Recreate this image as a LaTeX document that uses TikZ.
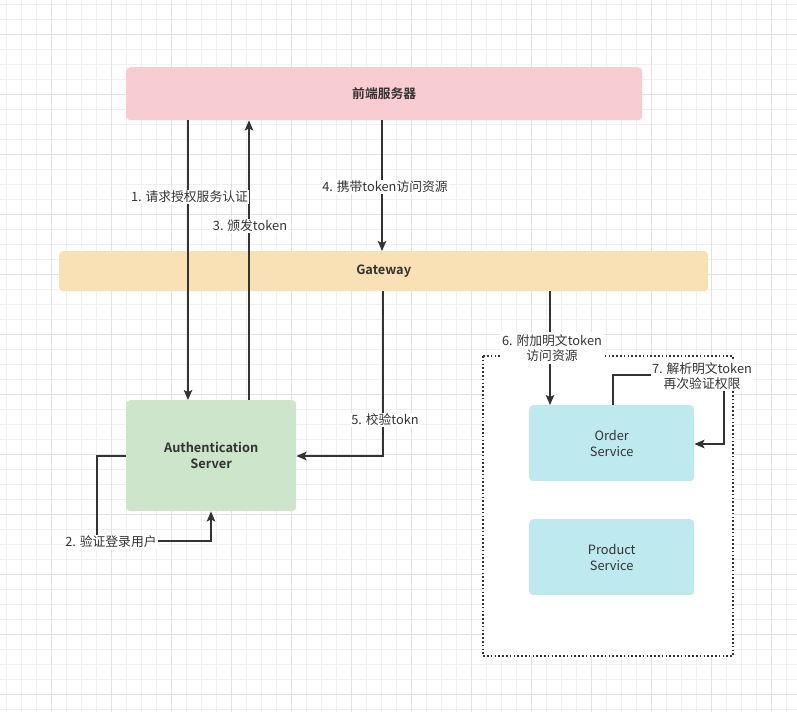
\documentclass[tikz,border=0pt]{standalone}
\usepackage{fontspec}
\setmainfont{Noto Sans CJK SC}[BoldFont={Noto Sans CJK SC Bold}]
\usetikzlibrary{arrows.meta}
\definecolor{gridminor}{HTML}{F0F0F0}
\definecolor{gridmajor}{HTML}{E2E2E2}
\definecolor{ink}{HTML}{333333}
\definecolor{pinkfill}{HTML}{F8CDD2}
\definecolor{sandfill}{HTML}{FAE1B5}
\definecolor{sagefill}{HTML}{CDE5CA}
\definecolor{skyfill}{HTML}{BDE9EF}
\tikzset{
  box/.style={rounded corners=4pt, draw=none, anchor=north west, inner sep=0pt,
    font=\fontsize{12.8}{16}\selectfont, text=ink, align=center},
  arr/.style={draw=ink, line width=1.6pt, -{Stealth[length=10pt,width=8.5pt,inset=2pt]}},
  lab/.style={fill=white, inner sep=1pt, font=\fontsize{12.8}{15.5}\selectfont, text=ink, align=center},
}
\begin{document}
\begin{tikzpicture}[x=1pt,y=-1pt]
\useasboundingbox (0,0) rectangle (797,712);
\fill[white] (0,0) rectangle (797,712);
% background grid
\foreach \k in {0,...,53} {
  \draw[gridminor, line width=0.8pt] ({6.7+15*\k},0) -- ({6.7+15*\k},712);
}
\foreach \k in {0,...,47} {
  \draw[gridminor, line width=0.8pt] (0,{4.3+15*\k}) -- (797,{4.3+15*\k});
}
\foreach \k in {0,...,13} {
  \draw[gridmajor, line width=0.8pt] ({51.7+60*\k},0) -- ({51.7+60*\k},712);
}
\foreach \k in {0,...,11} {
  \draw[gridmajor, line width=0.8pt] (0,{34.3+60*\k}) -- (797,{34.3+60*\k});
}
% dotted service group
\draw[ink, fill=white, line width=1.6pt, dash pattern=on 1.6pt off 2.2pt]
  (483,356) rectangle (733,656);
% boxes
\node[box, fill=pinkfill, minimum width=516pt, minimum height=53pt] (front) at (126,67) {\bfseries 前端服务器};
\node[box, fill=sandfill, minimum width=649pt, minimum height=40pt] (gw) at (59,251) {\bfseries Gateway};
\node[box, fill=sagefill, minimum width=170pt, minimum height=111pt] (auth) at (126,400) {\bfseries Authentication\\\bfseries Server};
\node[box, fill=skyfill, minimum width=165pt, minimum height=76pt] (order) at (529,405) {Order\\Service};
\node[box, fill=skyfill, minimum width=165pt, minimum height=76pt] (product) at (529,519) {Product\\Service};
% routing columns and bends
\coordinate (c1) at (188,0);
\coordinate (c3) at (249,0);
\coordinate (c4) at (382,0);
\coordinate (c6) at (550,0);
\coordinate (c7) at (613,0);
\coordinate (b5) at (383,456);
\coordinate (b7a) at (613,375);
\coordinate (b7b) at (724,375);
\coordinate (b7c) at (724,444);
\coordinate (b2a) at (97,456);
\coordinate (b2b) at (97,541);
\coordinate (b2c) at (211,541);
% connectors
\draw[arr] (front.south -| c1) -- (auth.north -| c1);
\draw[arr] (auth.north -| c3) -- (front.south -| c3);
\draw[arr] (front.south -| c4) -- (gw.north -| c4);
\draw[arr] (gw.south -| b5) -- (b5) -- (auth.east |- b5);
\draw[arr] (gw.south -| c6) -- (order.north -| c6);
\draw[arr] (order.north -| c7) -- (b7a) -- (b7b) -- (b7c) -- (order.east |- b7c);
\draw[arr] (auth.west |- b2a) -- (b2a) -- (b2b) -- (b2c) -- (auth.south -| b2c);
% labels
\node[lab] (l1) at (189.5,197) {1. 请求授权服务认证};
\node[lab] (l2) at (111,542) {2. 验证登录用户};
\node[lab] (l3) at (250,226) {3. 颁发token};
\node[lab] (l4) at (385,187) {4. 携带token访问资源};
\node[lab] (l5) at (385,420) {5. 校验tokn};
\node[lab, inner sep=2pt] (l6) at (552,348) {6. 附加明文token\\访问资源};
\node[lab, inner sep=1pt] (l7) at (702,376) {7. 解析明文token\\再次验证权限};
\end{tikzpicture}
\end{document}
